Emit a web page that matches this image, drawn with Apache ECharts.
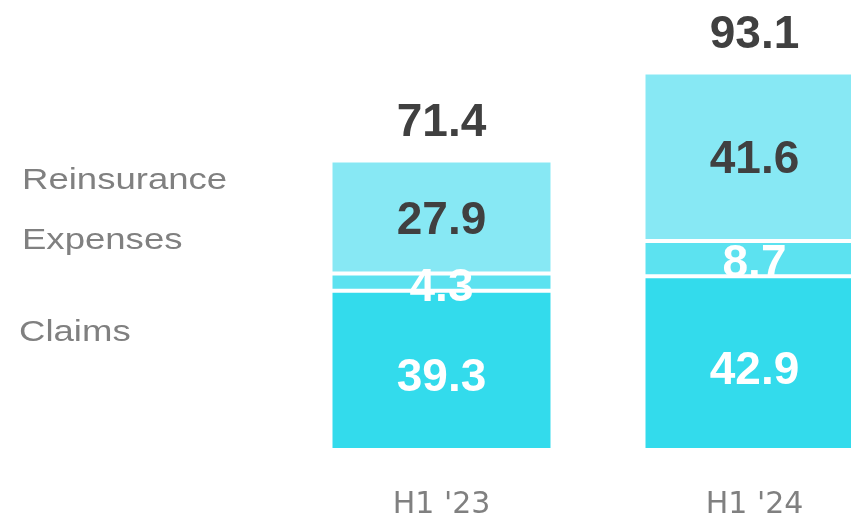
<!DOCTYPE html>
<html>
<head>
<meta charset="utf-8">
<script src="https://cdn.jsdelivr.net/npm/echarts@6/dist/echarts.min.js"></script>
<style>
html, body { margin: 0; padding: 0; background: #fff; }
#chart { width: 851px; height: 516px; }
</style>
</head>
<body>
<div id="chart"></div>
<script>
var categories = ["H1 '23", "H1 '24"];
var claims = [39.3, 42.9];
var expenses = [4.3, 8.7];
var reinsurance = [27.9, 41.6];
var totals = [71.4, 93.1];
var legendNames = ["Reinsurance", "Expenses", "Claims"];

(function main() {
    var chart = echarts.init(document.getElementById("chart"), null, { renderer: "canvas" });
    var numFont = "'Liberation Sans', Arial, sans-serif";

    // stacked segment, labels sit a little below the centre like the source
    function segment(name, data, color, textColor, dy) {
        return {
            name: name,
            type: "bar",
            stack: "total",
            barWidth: 222,
            clip: false,
            data: data,
            itemStyle: { color: color, borderColor: "#fff", borderWidth: 2 },
            label: {
                show: true,
                position: "inside",
                offset: [0, dy],
                color: textColor,
                fontFamily: numFont,
                fontWeight: "bold",
                fontSize: 46
            },
            emphasis: { disabled: true },
            silent: true
        };
    }

    var option = {
        animation: false,
        grid: { left: 441.5, right: 96.5, top: 45, bottom: 66, outerBoundsMode: "none" },
        xAxis: {
            type: "category",
            data: categories,
            boundaryGap: false,
            axisLine: { show: false },
            axisTick: { show: false },
            axisLabel: {
                color: "#808080",
                fontFamily: "'DejaVu Sans', sans-serif",
                fontSize: 30,
                margin: 40
            }
        },
        yAxis: { type: "value", min: 0, max: 100, show: false },
        series: [
            segment("Claims", claims, "#33dbec", "#ffffff", 8),
            segment("Expenses", expenses, "#5ce2f0", "#ffffff", 6),
            segment("Reinsurance", reinsurance, "#87e8f4", "#404040", 4),
            {
                name: "Total",
                type: "scatter",
                data: totals,
                symbolSize: 0,
                clip: false,
                silent: true,
                itemStyle: { opacity: 1 },
                label: {
                    show: true,
                    position: "top",
                    distance: 15,
                    color: "#404040",
                    opacity: 1,
                    fontFamily: numFont,
                    fontWeight: "bold",
                    fontSize: 46
                }
            }
        ],
        graphic: [
            { name: legendNames[0], y: 181 },
            { name: legendNames[1], y: 241 },
            { name: legendNames[2], y: 333, x: 19 }
        ].map(function(item) {
            return {
                type: "text",
                x: item.x || 22,
                y: item.y,
                scaleX: 1.26,
                style: {
                    text: item.name,
                    fill: "#808080",
                    font: "29px 'Liberation Sans', Arial, sans-serif",
                    verticalAlign: "middle"
                }
            };
        })
    };

    chart.setOption(option);
})();
</script>
</body>
</html>
